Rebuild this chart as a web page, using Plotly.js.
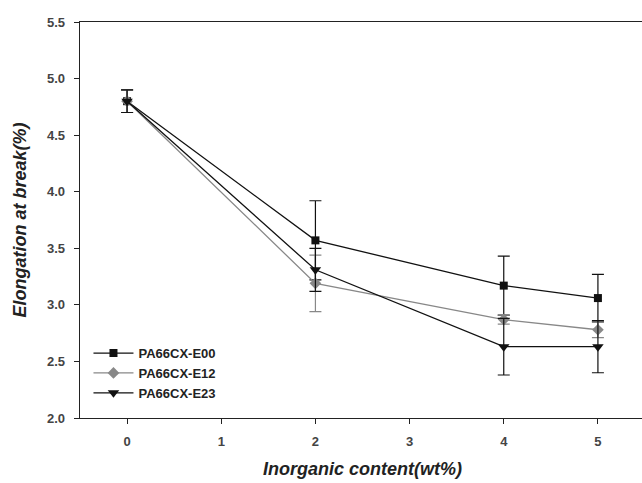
<!DOCTYPE html>
<html><head><meta charset="utf-8">
<script src="https://cdn.plot.ly/plotly-3.0.1.min.js"></script>
<style>html,body{margin:0;padding:0;overflow:hidden;background:#fff;width:642px;height:483px}</style>
</head><body><div id="chart"></div>
<script>
var xContent = [0, 2, 4, 5];
var e00 = [4.80, 3.57, 3.17, 3.06];
var e00Err = [0.10, 0.35, 0.26, 0.21];
var e12 = [4.80, 3.19, 2.87, 2.78];
var e12Err = [0.10, 0.25, 0.04, 0.07];
var e23 = [4.80, 3.31, 2.63, 2.63];
var e23Err = [0.10, 0.19, 0.25, 0.23];
var xTicks = [0, 1, 2, 3, 4, 5];
var yTicks = [2.0, 2.5, 3.0, 3.5, 4.0, 4.5, 5.0, 5.5];

function tr(name, y, err, color, symbol, size) {
  return {
    x: xContent, y: y, name: name, type: 'scatter', mode: 'lines+markers',
    line: {color: color, width: 1.3},
    marker: {symbol: symbol, size: size, color: color},
    error_y: {type: 'data', array: err, visible: true, color: color, thickness: 1.2, width: 6}
  };
}
var data = [
  tr('PA66CX-E00', e00, e00Err, '#111', 'square', 8),
  tr('PA66CX-E12', e12, e12Err, '#888', 'diamond', 9),
  tr('PA66CX-E23', e23, e23Err, '#111', 'triangle-down', 10)
];
var layout = {
  width: 648, height: 483,
  margin: {l: 80, r: 3, t: 22, b: 65},
  paper_bgcolor: '#fff', plot_bgcolor: '#fff',
  showlegend: true,
  legend: {x: 0.015, y: 0.025, xanchor: 'left', yanchor: 'bottom', bgcolor: 'rgba(0,0,0,0)',
           font: {family: 'Liberation Sans, Arial', size: 13, color: '#222', weight: 'bold'},
           tracegroupgap: 0, itemwidth: 40},
  font: {family: 'Liberation Sans, Arial', color: '#333'},
  xaxis: {
    range: [-0.5, 5.5], tickvals: xTicks, ticktext: xTicks.map(String),
    showline: true, linecolor: '#222', linewidth: 1.3, mirror: true,
    ticks: 'outside', ticklen: 5, tickcolor: '#222', showgrid: false, zeroline: false,
    ticklabelstandoff: 6,
    tickfont: {size: 13, color: '#444', weight: 'bold'},
    title: {text: 'Inorganic content(wt%)', standoff: 14,
            font: {size: 18, color: '#222', weight: 'bold', style: 'italic'}}
  },
  yaxis: {
    range: [2.0, 5.5], tickvals: yTicks, ticktext: yTicks.map(function(v){return v.toFixed(1);}),
    showline: true, linecolor: '#222', linewidth: 1.3, mirror: true,
    ticks: 'outside', ticklen: 5, tickcolor: '#222', showgrid: false, zeroline: false,
    ticklabelstandoff: 6,
    tickfont: {size: 13, color: '#444', weight: 'bold'},
    title: {text: 'Elongation at break(%)', standoff: 15,
            font: {size: 18, color: '#222', weight: 'bold', style: 'italic'}}
  }
};
Plotly.newPlot('chart', data, layout, {displayModeBar: false, staticPlot: true});
</script></body></html>
